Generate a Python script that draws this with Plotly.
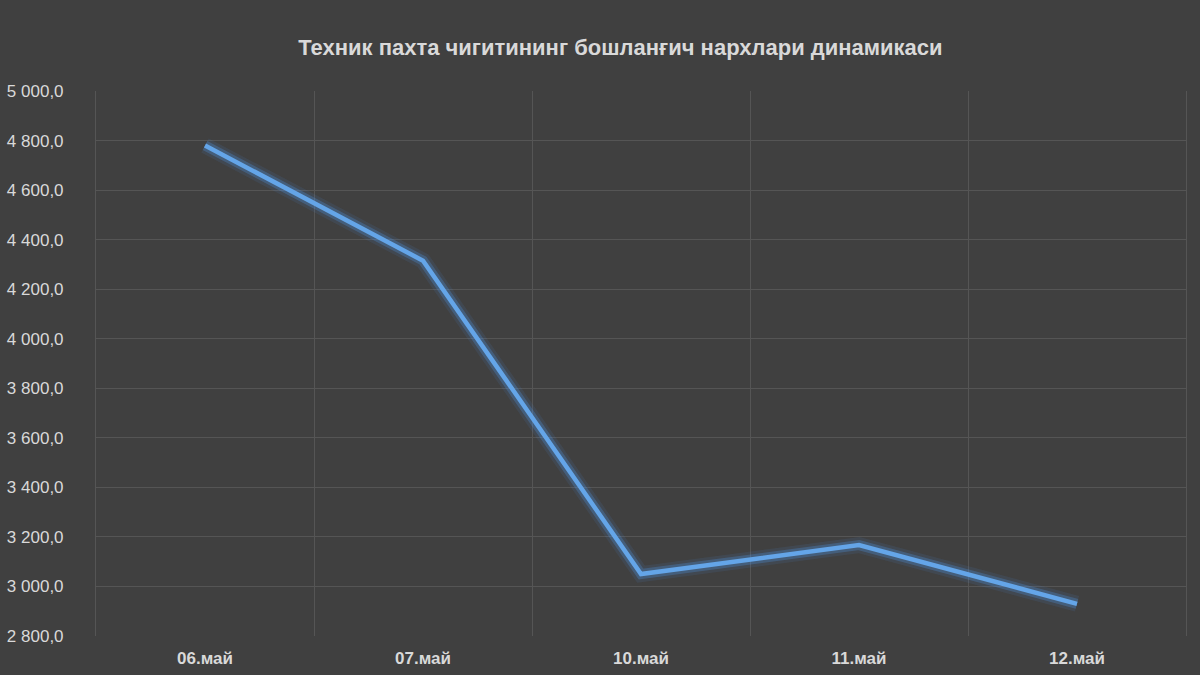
import plotly.graph_objects as go

# Техник пахта чигити: бошланғич нархлар
dates = ['06.май', '07.май', '10.май', '11.май', '12.май']
prices = [4780, 4315, 3050, 3167, 2930]

y_ticks = list(range(2800, 5001, 200))

bg = '#404040'
grid = '#555555'
txt = '#d9d9d9'

fig = go.Figure()

# soft glow under the line
fig.add_trace(go.Scatter(x=dates, y=prices, mode='lines',
                         line=dict(color='rgba(80,150,235,0.10)', width=16),
                         hoverinfo='skip', showlegend=False))
fig.add_trace(go.Scatter(x=dates, y=prices, mode='lines',
                         line=dict(color='rgba(80,150,235,0.28)', width=10),
                         hoverinfo='skip', showlegend=False))
fig.add_trace(go.Scatter(x=dates, y=prices, mode='lines',
                         line=dict(color='#64a5e8', width=4.5),
                         name='нарх', showlegend=False))

fig.update_layout(
    width=1200, height=675,
    paper_bgcolor=bg, plot_bgcolor=bg,
    margin=dict(l=96, r=14, t=91, b=39),
    separators=', ',
    font=dict(family='Liberation Sans, Arial, sans-serif', color=txt, size=17),
    title=dict(text='<b>Техник пахта чигитининг бошланғич нархлари динамикаси</b>',
               x=0.517, xanchor='center', y=0.93, yanchor='middle',
               font=dict(size=22, color=txt)),
)

fig.update_xaxes(
    type='category', range=[-0.5, 4.5],
    tickson='boundaries', ticks='',
    showgrid=True, gridcolor=grid, gridwidth=1,
    showline=False, zeroline=False, automargin=False,
    tickfont=dict(size=17, color=txt),
    ticktext=['<b>%s</b>' % d for d in dates], tickvals=dates,
    ticklabelstandoff=10,
)
fig.update_yaxes(
    range=[2800, 5000], tickvals=y_ticks, tickformat=',.1f',
    showgrid=True, gridcolor=grid, gridwidth=1,
    showline=True, mirror=True, linecolor=grid, linewidth=1,
    zeroline=False, ticks='', automargin=False,
    tickfont=dict(size=17, color=txt),
    ticklabelstandoff=28,
)

fig.write_html('out.html', config={'displayModeBar': False},
               post_script="document.body.style.margin='0';document.body.style.background='#404040';")
